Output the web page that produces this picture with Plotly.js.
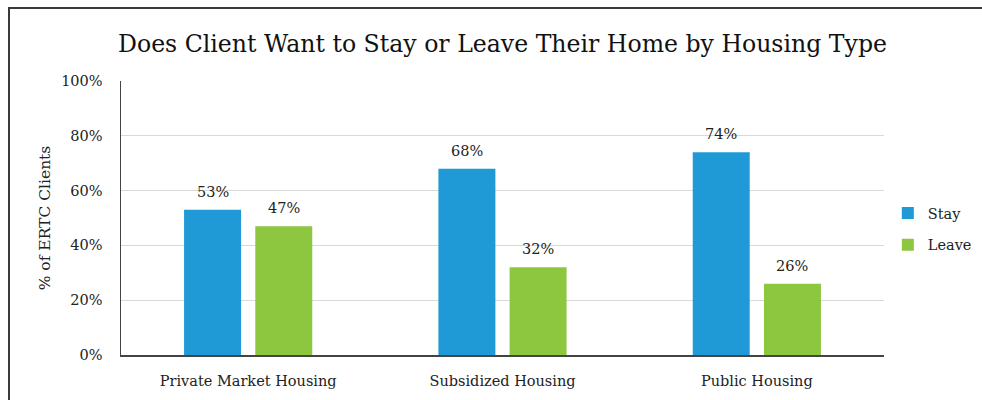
<!DOCTYPE html>
<html>
<head>
<meta charset="utf-8">
<script src="https://cdn.plot.ly/plotly-3.0.1.min.js"></script>
<style>
  html, body { margin: 0; padding: 0; background: #fff; }
  #wrap { position: relative; width: 982px; height: 400px; overflow: hidden; }
  #chart { position: absolute; left: 0; top: 0; width: 982px; height: 400px; }
  #frame { position: absolute; left: 8px; top: 7px; width: 1000px; height: 420px;
           border-top: 2px solid #3a3a3a; border-left: 2px solid #3a3a3a; pointer-events: none; }
</style>
</head>
<body>
<div id="wrap">
  <div id="chart"></div>
  <div id="frame"></div>
</div>
<script>
// Share of clients who want to stay in / leave their home, by housing type
const housingTypes = ["Private Market Housing", "Subsidized Housing", "Public Housing"];
const stayPct = [53, 68, 74];
const leavePct = [47, 32, 26];
const yTicks = [0, 20, 40, 60, 80, 100];
const yTickLabels = ["0%", "20%", "40%", "60%", "80%", "100%"];

const FONT = "'DejaVu Serif', serif";
const BLUE = "#1F9AD6";
const GREEN = "#8DC63F";

const traces = [
  { type: "bar", name: "Stay", x: housingTypes, y: stayPct, marker: { color: BLUE },
    legendgroup: "a", hoverinfo: "none" },
  { type: "bar", name: "Leave", x: housingTypes, y: leavePct, marker: { color: GREEN },
    legendgroup: "b", hoverinfo: "none" }
];

// value labels above each bar
const annotations = [];
[[stayPct, -35.5], [leavePct, 35.5]].forEach(([vals, dx]) => {
  vals.forEach((v, i) => {
    annotations.push({
      x: housingTypes[i], y: v, xref: "x", yref: "y",
      text: v + "%", showarrow: false, yanchor: "bottom",
      xshift: dx, yshift: 8,
      font: { family: FONT, size: 14.5, color: "#222" }
    });
  });
});

const layout = {
  width: 982, height: 400,
  margin: { l: 121, r: 98, t: 81, b: 45, autoexpand: false },
  paper_bgcolor: "#fff", plot_bgcolor: "#fff",
  font: { family: FONT, color: "#222" },
  title: { text: "Does Client Want to Stay or Leave Their Home by Housing Type",
           font: { family: FONT, size: 23.6, color: "#111" },
           x: 0.5, xref: "paper", xanchor: "center", y: 0.89, yanchor: "middle" },
  barmode: "group", bargap: 0.44, bargroupgap: 0.2,
  xaxis: { type: "category", showline: true, linecolor: "#444", linewidth: 1.5,
           ticks: "", ticklabelstandoff: 12,
           tickfont: { family: FONT, size: 14.5, color: "#222" } },
  yaxis: { range: [0, 100], tickvals: yTicks, ticktext: yTickLabels,
           showgrid: true, gridcolor: "#D9D9D9", gridwidth: 1,
           showline: true, linecolor: "#444", linewidth: 1.5, zeroline: false,
           tickfont: { family: FONT, size: 14.5, color: "#222" }, ticklabelstandoff: 14,
           title: { text: "% of ERTC Clients", font: { family: FONT, size: 15.5, color: "#222" }, standoff: 6 } },
  showlegend: true,
  legend: { x: 1.005, y: 0.46, xanchor: "left", yanchor: "middle",
            traceorder: "grouped", tracegroupgap: 10,
            font: { family: FONT, size: 14.5, color: "#222" }, itemwidth: 30 },
  annotations: annotations
};

Plotly.newPlot("chart", traces, layout, { staticPlot: true, displayModeBar: false });
</script>
</body>
</html>
